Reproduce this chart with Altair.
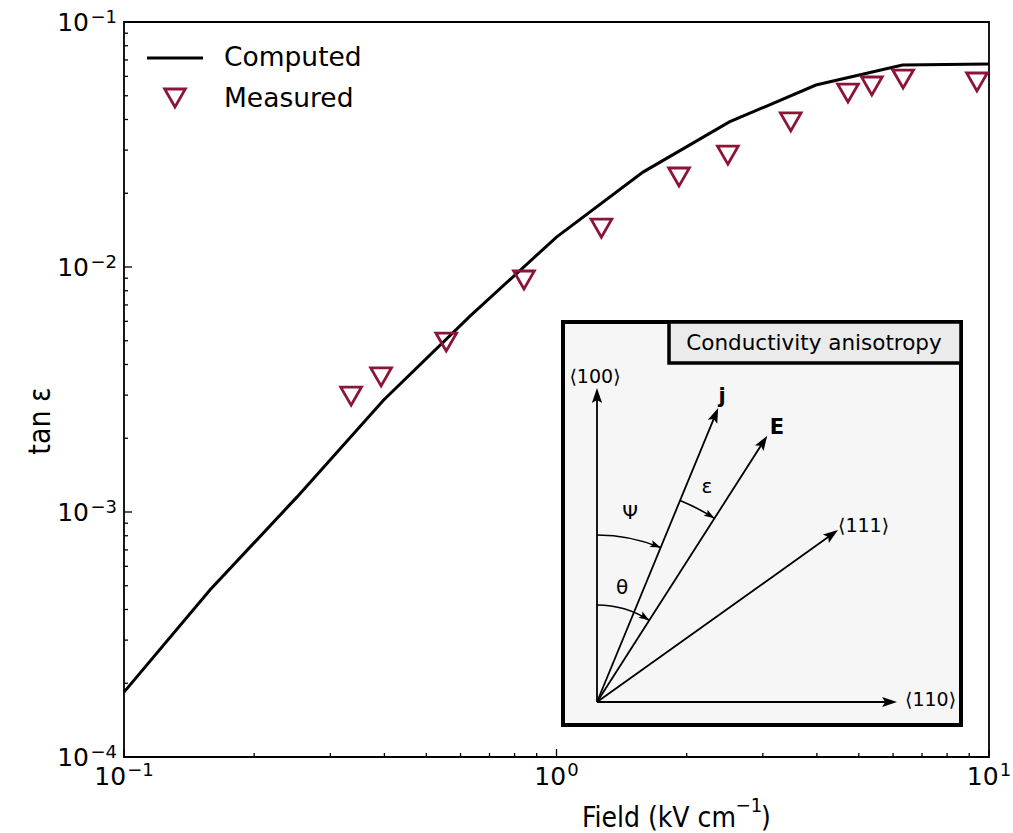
import math
import altair as alt
import pandas as pd

# ---------------- data ----------------
comp_field = [0.1, 0.158, 0.251, 0.398, 0.631, 1.0, 1.585, 2.51, 3.98, 6.31, 10.0]
comp_tan = [1.84e-4, 4.8e-4, 1.15e-3, 2.86e-3, 6.3e-3, 1.325e-2, 2.44e-2, 3.91e-2, 5.53e-2, 6.67e-2, 6.74e-2]

meas_field = [0.335, 0.393, 0.556, 0.841, 1.27, 1.92, 2.49, 3.48, 4.72, 5.36, 6.33, 9.38]
meas_tan = [0.00297, 0.00356, 0.00494, 0.00885, 0.0144, 0.0233, 0.0286, 0.0391, 0.0513, 0.0548, 0.0585, 0.0569]

x_major = [0.1, 1.0, 10.0]
x_major_exp = ["−1", "0", "1"]
x_minor = [0.2, 0.3, 0.4, 0.5, 0.6, 0.7, 0.8, 0.9, 2, 3, 4, 5, 6, 7, 8, 9]
y_major = [1e-4, 1e-3, 1e-2, 1e-1]
y_major_exp = ["−4", "−3", "−2", "−1"]
y_minor = [2e-4, 3e-4, 4e-4, 5e-4, 6e-4, 7e-4, 8e-4, 9e-4,
           2e-3, 3e-3, 4e-3, 5e-3, 6e-3, 7e-3, 8e-3, 9e-3,
           2e-2, 3e-2, 4e-2, 5e-2, 6e-2, 7e-2, 8e-2, 9e-2]

# inset diagram: vectors (angle from <100>, clockwise, degrees; length px)
vec_names = ["⟨100⟩", "⟨110⟩", "j", "E", "⟨111⟩"]
vec_angle = [0.0, 90.0, 22.4, 32.6, 54.5]
vec_len = [314, 300, 318, 316, 296]
# angle arcs: (radius, start angle, end angle)
arc_radius = [167, 97, 218]
arc_start = [0.0, 0.0, 22.4]
arc_end = [22.4, 32.6, 32.6]
# inset labels: offsets relative to origin
lab_text = ["⟨100⟩", "⟨111⟩", "⟨110⟩"]
lab_dx = [-2, 241, 308]
lab_dy = [-325, -176, -2]
lab_align = ["center", "left", "left"]
greek_text = ["Ψ", "θ", "ε"]
greek_dx = [33, 25, 110]
greek_dy = [-189, -114, -215]
bold_text = ["j", "E"]
bold_dx = [125, 180]
bold_dy = [-305, -274]

RED = "#8c1537"
FONT = "DejaVu Sans"
CFONT = "DejaVu Sans Condensed, Liberation Sans Narrow, DejaVu Sans"
W, H = 865, 735

df_comp = pd.DataFrame({"field": comp_field, "tan": comp_tan})
df_meas = pd.DataFrame({"field": meas_field, "tan": meas_tan})

xs = alt.Scale(type="log", domain=[0.1, 10], nice=False)
ys = alt.Scale(type="log", domain=[1e-4, 1e-1], nice=False)

line = alt.Chart(df_comp).mark_line(color="black", strokeWidth=3).encode(
    x=alt.X("field:Q", scale=xs, axis=None),
    y=alt.Y("tan:Q", scale=ys, axis=None),
)
points = alt.Chart(df_meas).mark_point(shape="triangle-down", size=430, strokeWidth=2.8,
                                       color=RED, filled=False, opacity=1).encode(
    x="field:Q", y="tan:Q")

# manual inward ticks
def xticks(vals, length):
    return alt.Chart(pd.DataFrame({"field": vals})).mark_rule(color="black", strokeWidth=1.3).encode(
        x="field:Q", y=alt.value(H), y2=alt.value(H - length))

def yticks(vals, length):
    return alt.Chart(pd.DataFrame({"tan": vals})).mark_rule(color="black", strokeWidth=1.3).encode(
        y="tan:Q", x=alt.value(0), x2=alt.value(length))

# manual tick labels "10" + superscript exponent
F10, FEXP = 25, 18
W10 = 1.272 * F10
def exp_width(e):
    return sum((0.838 if ch == "−" else 0.636) for ch in e) * FEXP

label_layers = []
for v, e in zip(x_major, x_major_exp):
    total = W10 + 1 + exp_width(e)
    k = -total / 2 + W10
    d = pd.DataFrame({"field": [v]})
    label_layers.append(alt.Chart(d).mark_text(text="10", font=FONT, fontSize=F10, color="black",
                                               align="right", baseline="alphabetic", dx=k).encode(
        x="field:Q", y=alt.value(H + 28)))
    label_layers.append(alt.Chart(d).mark_text(text=e, font=FONT, fontSize=FEXP, color="black",
                                               align="left", baseline="alphabetic", dx=k + 1).encode(
        x="field:Q", y=alt.value(H + 19)))
for v, e in zip(y_major, y_major_exp):
    d = pd.DataFrame({"tan": [v]})
    label_layers.append(alt.Chart(d).mark_text(text="10", font=FONT, fontSize=F10, color="black",
                                               align="right", baseline="alphabetic", dy=9).encode(
        y="tan:Q", x=alt.value(-35)))
    label_layers.append(alt.Chart(d).mark_text(text=e, font=FONT, fontSize=FEXP, color="black",
                                               align="right", baseline="alphabetic", dy=1).encode(
        y="tan:Q", x=alt.value(-7)))

one = pd.DataFrame({"a": [0]})
# axis titles
xt1 = alt.Chart(one).mark_text(text="Field (kV cm", font=CFONT, fontSize=28, color="black",
                               align="right", baseline="alphabetic").encode(
    x=alt.value(612), y=alt.value(805))
xt2 = alt.Chart(one).mark_text(text="−1", font=CFONT, fontSize=20, color="black",
                               align="center", baseline="alphabetic").encode(
    x=alt.value(625), y=alt.value(790))
xt3 = alt.Chart(one).mark_text(text=")", font=CFONT, fontSize=28, color="black",
                               align="left", baseline="alphabetic").encode(
    x=alt.value(637), y=alt.value(805))
yt = alt.Chart(one).mark_text(text="tan ε", font=CFONT, fontSize=30, color="black",
                              align="center", baseline="alphabetic", angle=270).encode(
    x=alt.value(-74), y=alt.value(399))

# ---------------- inset ----------------
OX, OY = 473, 680
ARROW = "M0,-1L0.6,0.75L0,0.4L-0.6,0.75Z"

box = alt.Chart(one).mark_rect(fill="#f6f6f6", stroke="black", strokeWidth=4).encode(
    x=alt.value(439), x2=alt.value(837), y=alt.value(300), y2=alt.value(703))
tbox = alt.Chart(one).mark_rect(fill="#ebebeb", stroke="black", strokeWidth=3.5).encode(
    x=alt.value(545), x2=alt.value(837), y=alt.value(300), y2=alt.value(341))
ttext = alt.Chart(one).mark_text(text="Conductivity anisotropy", font=FONT, fontSize=21.5,
                                 color="black", align="center", baseline="middle").encode(
    x=alt.value(690), y=alt.value(322))

rows = []
heads = []
R_MAIN = 8.5
for n, a, L in zip(vec_names, vec_angle, vec_len):
    dx, dy = math.sin(math.radians(a)), -math.cos(math.radians(a))
    tx, ty = OX + L * dx, OY + L * dy
    rows.append({"x0": OX, "y0": OY, "x1": tx - 6 * dx, "y1": ty - 6 * dy})
    heads.append({"hx": tx - R_MAIN * dx, "hy": ty - R_MAIN * dy, "ang": a, "s": 4 * R_MAIN ** 2})
R_ARC = 6.0
arc_layers = []
for r, a0, a1 in zip(arc_radius, arc_start, arc_end):
    arc_layers.append(alt.Chart(one).mark_arc(radius=r, radius2=r, theta=math.radians(a0),
                                              theta2=math.radians(a1), stroke="black",
                                              strokeWidth=1.6, fillOpacity=0).encode(
        x=alt.value(OX), y=alt.value(OY)))
    ex, ey = OX + r * math.sin(math.radians(a1)), OY - r * math.cos(math.radians(a1))
    ta = a1 + 90
    dx, dy = math.sin(math.radians(ta)), -math.cos(math.radians(ta))
    heads.append({"hx": ex - R_ARC * dx, "hy": ey - R_ARC * dy, "ang": ta, "s": 4 * R_ARC ** 2})

df_vec = pd.DataFrame(rows)
df_heads = pd.DataFrame(heads)

vec_rules = alt.Chart(df_vec).mark_rule(color="black", strokeWidth=1.8).encode(
    x=alt.X("x0:Q", scale=None), y=alt.Y("y0:Q", scale=None), x2="x1:Q", y2="y1:Q")
vec_heads = alt.Chart(df_heads).mark_point(shape=ARROW, filled=True, color="black",
                                           opacity=1, strokeWidth=0).encode(
    x=alt.X("hx:Q", scale=None), y=alt.Y("hy:Q", scale=None),
    angle=alt.Angle("ang:Q", scale=None), size=alt.Size("s:Q", scale=None))

df_lab = pd.DataFrame({"t": lab_text, "x": [OX + d for d in lab_dx],
                       "y": [OY + d for d in lab_dy], "al": lab_align})
lab_layers = []
for al in ["center", "left"]:
    sub = df_lab[df_lab["al"] == al]
    lab_layers.append(alt.Chart(sub).mark_text(font=FONT, fontSize=19, color="black",
                                               align=al, baseline="middle").encode(
        x=alt.X("x:Q", scale=None), y=alt.Y("y:Q", scale=None), text="t:N"))
df_greek = pd.DataFrame({"t": greek_text, "x": [OX + d for d in greek_dx],
                         "y": [OY + d for d in greek_dy]})
greek_layer = alt.Chart(df_greek).mark_text(font=FONT, fontSize=20, color="black",
                                            align="center", baseline="middle").encode(
    x=alt.X("x:Q", scale=None), y=alt.Y("y:Q", scale=None), text="t:N")
df_bold = pd.DataFrame({"t": bold_text, "x": [OX + d for d in bold_dx],
                        "y": [OY + d for d in bold_dy]})
bold_layer = alt.Chart(df_bold).mark_text(font=FONT, fontSize=21, fontWeight="bold",
                                          color="black", align="center", baseline="middle").encode(
    x=alt.X("x:Q", scale=None), y=alt.Y("y:Q", scale=None), text="t:N")

# ---------------- legend ----------------
leg_line = alt.Chart(one).mark_rule(color="black", strokeWidth=3).encode(
    x=alt.value(23), x2=alt.value(79), y=alt.value(36))
leg_pt = alt.Chart(one).mark_point(shape="triangle-down", size=430, strokeWidth=2.8,
                                   color=RED, filled=False, opacity=1).encode(
    x=alt.value(51), y=alt.value(76))
leg_t1 = alt.Chart(one).mark_text(text="Computed", font=FONT, fontSize=26.5, color="black",
                                  align="left", baseline="middle").encode(
    x=alt.value(100), y=alt.value(36))
leg_t2 = alt.Chart(one).mark_text(text="Measured", font=FONT, fontSize=26.5, color="black",
                                  align="left", baseline="middle").encode(
    x=alt.value(100), y=alt.value(77))

chart = alt.layer(
    line, points,
    xticks(x_major, 8), xticks(x_minor, 4), yticks(y_major, 8), yticks(y_minor, 4),
    *label_layers, xt1, xt2, xt3, yt,
    box, tbox, ttext, vec_rules, *arc_layers, vec_heads, *lab_layers, greek_layer, bold_layer,
    leg_line, leg_pt, leg_t1, leg_t2,
).properties(
    width=W, height=H,
    autosize=alt.AutoSizeParams(type="none"),
    padding={"left": 124, "top": 22, "right": 24, "bottom": 76},
).configure_view(stroke="black", strokeWidth=1.8)

chart.save("out.html", embed_options={"renderer": "svg", "actions": False})
